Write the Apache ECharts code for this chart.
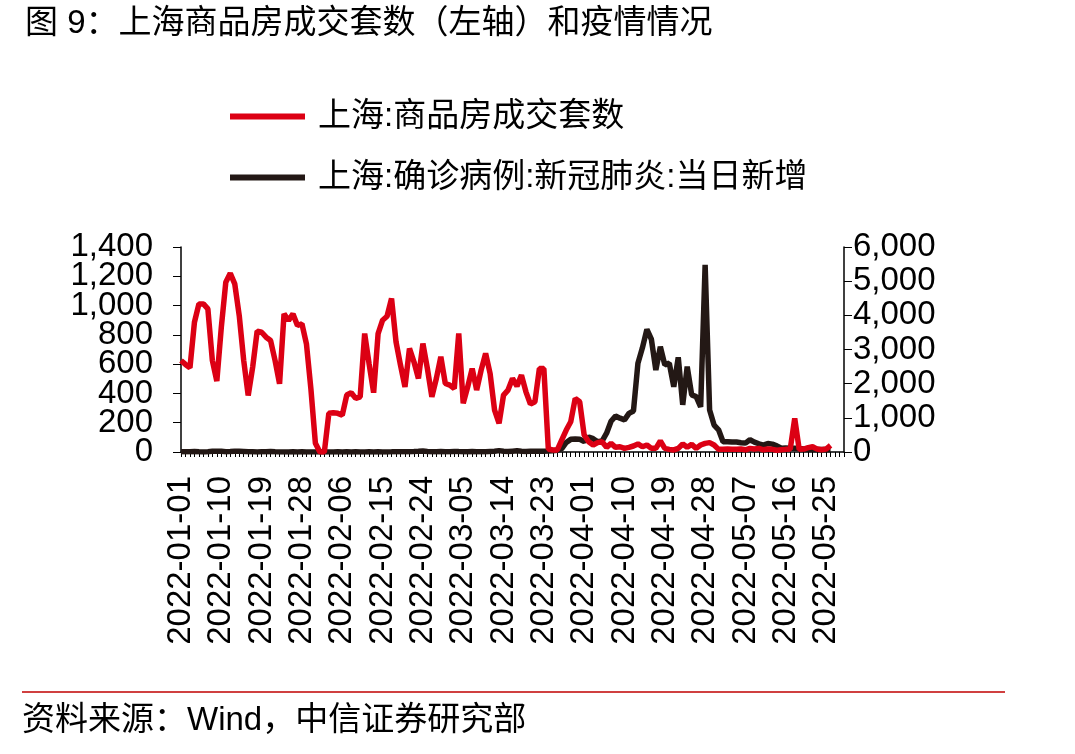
<!DOCTYPE html>
<html>
<head>
<meta charset="utf-8">
<script src="https://cdn.jsdelivr.net/npm/echarts@6/dist/echarts.min.js"></script>
<style>
  html, body { margin: 0; padding: 0; background: #fff; }
  #chart { width: 1075px; height: 754px; }
</style>
</head>
<body>
<div id="chart"></div>
<script>
// dates 2022-01-01 .. 2022-05-29 (daily)
var dates = []
var d0 = new Date(Date.UTC(2022, 0, 1))
for (var i = 0; i < 149; i++) {
  var d = new Date(d0.getTime() + i * 86400000)
  dates.push(d.toISOString().slice(0, 10))
}

// 上海:商品房成交套数 (left axis)
var houseDeals = [
  625, 598, 575, 886, 1011, 1011, 977, 625, 484, 852,
  1159, 1220, 1148, 932, 625, 386, 580, 825, 818, 784,
  761, 625, 466, 943, 898, 943, 864, 875, 739, 430,
  60, 0, 0, 264, 268, 264, 252, 389, 405, 366,
  377, 809, 600, 405, 809, 900, 927, 1048, 752, 593,
  445, 707, 616, 502, 741, 570, 377, 502, 650, 468,
  457, 434, 809, 332, 445, 570, 423, 559, 673, 536,
  286, 195, 389, 423, 502, 450, 525, 411, 327, 343,
  570, 570, 20, 14, 14, 82, 150, 207, 366, 343,
  116, 70, 48, 64, 70, 32, 59, 32, 36, 25,
  32, 41, 55, 36, 48, 25, 25, 75, 25, 18,
  14, 25, 55, 32, 52, 25, 48, 59, 64, 48,
  18, 18, 20, 18, 18, 20, 15, 25, 20, 25,
  15, 20, 18, 12, 15, 18, 20, 230, 18, 20,
  30, 36, 20, 15, 20, 45, null, null, null
]

// 上海:确诊病例:新冠肺炎:当日新增 (right axis)
var newCases = [
  10, 5, 8, 15, 5, 3, 10, 20, 25, 20,
  8, 15, 25, 20, 15, 5, 8, 3, 10, 5,
  15, 5, 3, 2, 3, 5, 3, 4, 2, 3,
  2, 5, 3, 2, 3, 4, 2, 5, 3, 4,
  2, 3, 5, 3, 4, 2, 3, 5, 8, 10,
  5, 8, 12, 20, 30, 15, 10, 8, 12, 8,
  10, 15, 12, 10, 8, 12, 10, 8, 10, 15,
  20, 40, 20, 15, 25, 35, 20, 15, 20, 25,
  20, 25, 30, 40, 50, 100, 280, 370, 380, 370,
  310, 440, 390, 300, 320, 550, 900, 1050, 990, 940,
  1130, 1200, 2600, 3050, 3590, 3300, 2400, 3080, 2550, 2600,
  1910, 2770, 1380, 2500, 1670, 1620, 1320, 5480, 1230, 790,
  650, 300, 300, 290, 290, 270, 260, 360, 290, 240,
  200, 250, 230, 180, 110, 120, 110, 110, 100, 90,
  80, 80, 70, 70, 70, 70, null, null, null
]

var FONT = '"Liberation Sans", "Noto Sans CJK SC", sans-serif'
var RED = '#dc0014'
var BLACK = '#231815'
var GRID = { left: 181, right: 231, top: 247, bottom: 302 }

function thousands(v) {
  return String(v).replace(/\B(?=(\d{3})+(?!\d))/g, ',')
}
// left labels sit only 29px apart, so split them over two stacked axes
// (ECharts 6 drops labels it thinks overlap)
function leftEven(v) { return v % 400 === 0 ? thousands(v) : '' }
function leftOdd(v) { return v % 400 === 200 ? thousands(v) : '' }

var leftLabel = { margin: 28, fontFamily: FONT, fontSize: 33, color: '#000', showMinLabel: true, showMaxLabel: true, hideOverlap: false }

var chartDom = document.getElementById('chart')
var myChart = echarts.init(chartDom)
var option = {
  backgroundColor: '#fff',
  animation: false,
  title: {
    text: '图 9：上海商品房成交套数（左轴）和疫情情况',
    left: 20,
    top: 2,
    textStyle: { fontFamily: FONT, fontSize: 33, fontWeight: 'normal', color: '#000' }
  },
  legend: {
    orient: 'vertical',
    left: 230,
    top: 100,
    padding: 0,
    icon: 'rect',
    itemWidth: 75,
    itemHeight: 6,
    itemGap: 28,
    data: ['上海:商品房成交套数', '上海:确诊病例:新冠肺炎:当日新增'],
    textStyle: { fontFamily: FONT, fontSize: 33, color: '#000', lineHeight: 33, padding: [0, 0, 0, 8] }
  },
  grid: [GRID, GRID],
  xAxis: [
    {
      type: 'category',
      data: dates,
      boundaryGap: false,
      axisLine: { lineStyle: { color: '#000', width: 1.5 } },
      axisTick: { show: true, interval: 0, length: 5, lineStyle: { color: '#000' } },
      axisLabel: {
        interval: 8,
        rotate: 90,
        margin: 24,
        fontFamily: FONT,
        fontSize: 33,
        color: '#000'
      }
    },
    { type: 'category', gridIndex: 1, data: dates, boundaryGap: false, show: false }
  ],
  yAxis: [
    {
      type: 'value',
      min: 0,
      max: 1400,
      interval: 200,
      splitLine: { show: false },
      axisLine: { show: true, lineStyle: { color: '#000', width: 1.5 } },
      axisTick: { show: true, length: 8, lineStyle: { color: '#000', width: 1 } },
      axisLabel: Object.assign({ formatter: leftEven }, leftLabel)
    },
    {
      type: 'value',
      min: 0,
      max: 6000,
      interval: 1000,
      splitLine: { show: false },
      axisLine: { show: true, lineStyle: { color: '#000', width: 1.5 } },
      axisTick: { show: true, length: 8, lineStyle: { color: '#000', width: 1 } },
      axisLabel: {
        margin: 9, fontFamily: FONT, fontSize: 33, color: '#000', formatter: thousands,
        showMinLabel: true, showMaxLabel: true, hideOverlap: false
      }
    },
    {
      type: 'value',
      gridIndex: 1,
      position: 'left',
      min: 0,
      max: 1400,
      interval: 200,
      splitLine: { show: false },
      axisLine: { show: false },
      axisTick: { show: true, length: 8, lineStyle: { color: '#000', width: 1 } },
      axisLabel: Object.assign({ formatter: leftOdd }, leftLabel)
    }
  ],
  series: [
    {
      name: '上海:确诊病例:新冠肺炎:当日新增',
      type: 'line',
      yAxisIndex: 1,
      data: newCases,
      showSymbol: false,
      itemStyle: { color: BLACK },
      lineStyle: { color: BLACK, width: 5.5 }
    },
    {
      name: '上海:商品房成交套数',
      type: 'line',
      yAxisIndex: 0,
      data: houseDeals,
      showSymbol: false,
      itemStyle: { color: RED },
      lineStyle: { color: RED, width: 5.5 }
    }
  ],
  graphic: [
    {
      type: 'line',
      shape: { x1: 22, y1: 692, x2: 1005, y2: 692 },
      style: { stroke: '#c00000', lineWidth: 1.5 }
    },
    {
      type: 'text',
      left: 22,
      top: 704,
      style: { text: '资料来源：Wind，中信证券研究部', font: '33px ' + FONT, fill: '#000' }
    }
  ]
}

option && myChart.setOption(option)
</script>
</body>
</html>
